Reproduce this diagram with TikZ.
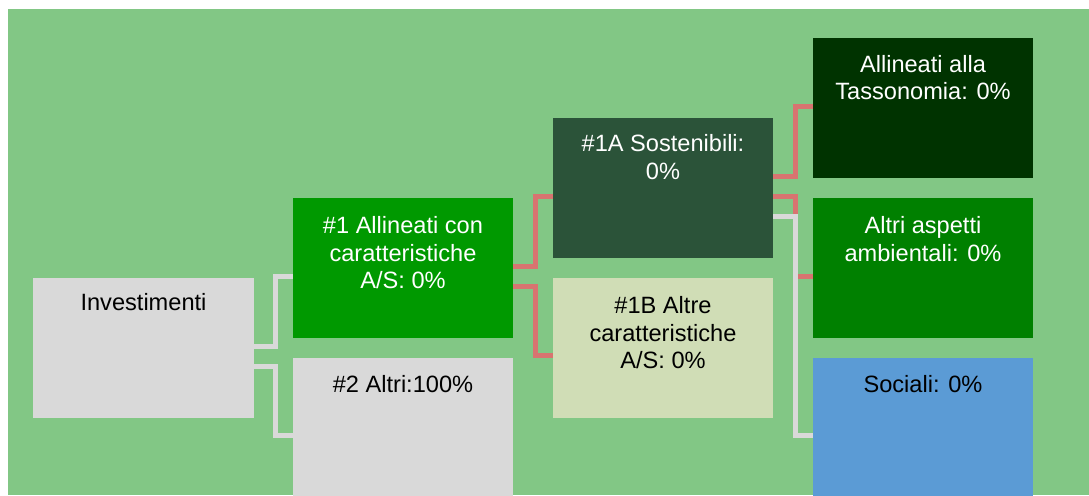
\documentclass[tikz,border=0pt]{standalone}
\usepackage{fontspec}
\setmainfont{Liberation Sans}
\definecolor{bggreen}{HTML}{82C785}
\definecolor{boxgray}{HTML}{D9D9D9}
\definecolor{cOne}{HTML}{009900}
\definecolor{cOneA}{HTML}{2B5339}
\definecolor{cOneB}{HTML}{D0DDB6}
\definecolor{cTass}{HTML}{003300}
\definecolor{cAltri}{HTML}{008000}
\definecolor{cSoc}{HTML}{5B9BD5}
\definecolor{redline}{HTML}{D87470}
\begin{document}
\begin{tikzpicture}[x=1pt,y=-1pt,
  box/.style={rectangle, draw=none, inner sep=0pt, minimum width=220pt, minimum height=140pt},
  txt/.style={inner sep=0pt, anchor=north, align=center, font=\fontsize{23.6}{27.3}\selectfont},
  rline/.style={draw=redline, line width=5pt, line cap=butt, line join=miter},
  gline/.style={draw=boxgray, line width=5pt, line cap=butt, line join=miter}]
\useasboundingbox (0,0) rectangle (1089,495);
\fill[bggreen] (8,9) rectangle (1089,495);
% boxes
\node[box, fill=boxgray, minimum width=221pt] (inv) at (143.5,348) {};
\node[box, fill=cOne] (n1) at (403,268) {};
\node[box, fill=boxgray] (n2) at (403,428) {};
\node[box, fill=cOneA] (n1a) at (663,188) {};
\node[box, fill=cOneB] (n1b) at (663,348) {};
\node[box, fill=cTass] (tass) at (923,108) {};
\node[box, fill=cAltri] (altri) at (923,268) {};
\node[box, fill=cSoc] (soc) at (923,428) {};
% texts
\node[txt, black] (invt) at (143.5,293.5) {Investimenti};
\node[txt, white] (n1t) at (403,216.5) {\#1 Allineati con\\caratteristiche\\A/S: 0\%};
\node[txt, black] (n2t) at (403,375) {\#2 Altri:100\%};
\node[txt, white] (n1at) at (663,134.5) {\#1A Sostenibili:\\0\%};
\node[txt, black] (n1bt) at (663,296.5) {\#1B Altre\\caratteristiche\\A/S: 0\%};
\node[txt, white] (tasst) at (923,55) {Allineati alla\\Tassonomia: 0\%};
\node[txt, white] (altrit) at (923,216.5) {Altri aspetti\\ambientali: 0\%};
\node[txt, black] (soct) at (923,375) {Sociali: 0\%};
% connectors
\draw[gline] ([yshift=2pt]inv.east) -- ++(21.5,0) |- ([yshift=-8pt]n1.west);
\draw[gline] ([yshift=-18pt]inv.east) -- ++(21.5,0) |- ([yshift=-7pt]n2.west);
\draw[rline] ([yshift=2pt]n1.east) -- ++(22.5,0) |- ([yshift=-8pt]n1a.west);
\draw[rline] ([yshift=-18pt]n1.east) -- ++(22.5,0) |- ([yshift=-7pt]n1b.west);
\draw[rline] ([yshift=12pt]n1a.east) -- ++(22.5,0) |- ([yshift=2pt]tass.west);
\draw[rline] ([yshift=-8pt]n1a.east) -- ++(22.5,0) |- ([yshift=-8pt]altri.west);
\draw[gline] ([yshift=-28pt]n1a.east) -- ++(22.5,0) |- ([yshift=-7pt]soc.west);
\end{tikzpicture}
\end{document}
